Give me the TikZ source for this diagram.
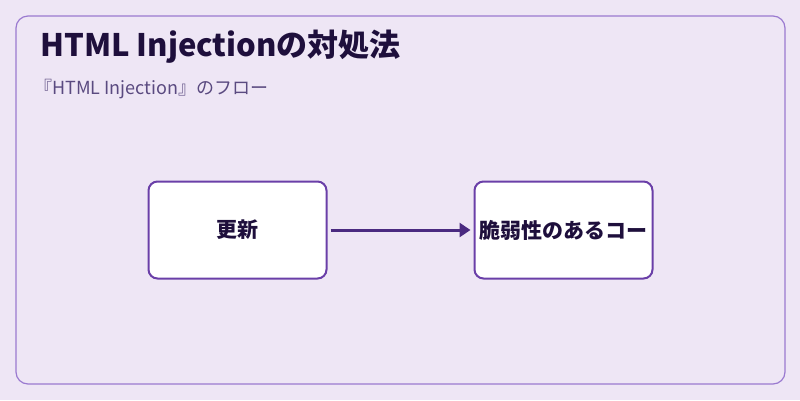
\documentclass[tikz,border=0pt]{standalone}
\usepackage{fontspec}
\setmainfont{Noto Sans CJK JP}
\usetikzlibrary{positioning,arrows.meta}
\definecolor{bgpurple}{HTML}{EEE6F5}
\definecolor{framepurple}{HTML}{9A7AD0}
\definecolor{boxpurple}{HTML}{6A3FA8}
\definecolor{arrowpurple}{HTML}{4A2A80}
\definecolor{titleink}{HTML}{1E0F3C}
\definecolor{subink}{HTML}{5A4A80}
\begin{document}
\begin{tikzpicture}[x=1pt,y=-1pt,
                    step node/.style={draw=boxpurple,line width=2pt,fill=white,rounded corners=9pt,
                      minimum width=178pt,minimum height=97pt,inner sep=0pt,
                      font=\fontsize{21}{24}\selectfont\bfseries,text=titleink}]
  \fill[bgpurple] (0,0) rectangle (800,400);
  \useasboundingbox (0,0) rectangle (800,400);
  \draw[framepurple,line width=1.2pt,rounded corners=12pt] (16,16) rectangle (785,384);

  \node[anchor=west,font=\fontsize{31}{34}\selectfont\bfseries,text=titleink,inner sep=0pt] (title) at (40,47) {HTML Injectionの対処法};
  \node[anchor=west,font=\fontsize{18}{21}\selectfont,text=subink,inner sep=0pt] (subtitle) at (34,89) {『HTML Injection』のフロー};

  \node[step node] (update) at (237.5,230) {更新};
  \node[step node] (vulncode) at (563.5,230) {脆弱性のあるコー};

  \draw[arrowpurple,line width=3pt,-{Triangle[length=11pt,width=14pt]}] ([xshift=3pt]update.east) -- ([xshift=-3pt]vulncode.west);
\end{tikzpicture}
\end{document}
